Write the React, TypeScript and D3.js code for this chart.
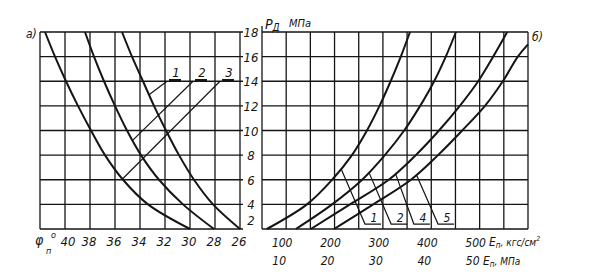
import React from "react";
import * as d3 from "d3";

// ---- axis values ----
const pTicks = [2, 4, 6, 8, 10, 12, 14, 16, 18];
const phiGrid = [42, 40, 38, 36, 34, 32, 30, 28, 26];
const phiTicks = [40, 38, 36, 34, 32, 30, 28, 26];
const eGrid = [50, 100, 150, 200, 250, 300, 350, 400, 450, 500, 550, 600];
const eTicksKgf = [100, 200, 300, 400, 500];
const eTicksMPa = [10, 20, 30, 40, 50];

// ---- left panel a): p_D (MPa) vs phi (deg) ----
const leftNames = ["1", "2", "3"];
const leftPhi1 = [35.44, 34.64, 33.76, 32.88, 31.92, 30.88, 29.68, 28.16, 26.0];
const leftPhi2 = [38.4, 37.68, 36.88, 36.0, 35.04, 33.92, 32.48, 30.56, 28.08];
const leftPhi3 = [41.6, 40.8, 39.92, 38.96, 37.92, 36.8, 35.36, 33.36, 30.0];
const leftP = [18, 16, 14, 12, 10, 8, 6, 4, 2];
// leader lines: start at p=14 (phi), end on curve at p
const leftLeaderStartPhi = [31.84, 29.76, 27.6];
const leftLeaderEndP = [12.9, 9.2, 6.06];

// ---- right panel б): p_D (MPa) vs E (kgf/cm2) ----
const rightNames = ["1", "2", "4", "5"];
const rightE1 = [60, 143, 195, 236, 267, 293, 316, 337, 356];
const rightE2 = [120, 195, 257, 304, 344, 377, 406, 430, 451];
const rightE4 = [151, 232, 312, 368, 416, 459, 497, 528, 557];
const rightE5 = [199, 280, 358, 414, 464, 511, 548, 579, 600];
const rightP = [2, 4, 6, 8, 10, 12, 14, 16, 18];
const rightP5 = [2, 4, 6, 8, 10, 12, 14, 16, 17];
const rightLeaderTopP = [6.9, 6.6, 6.5, 6.4];
const rightLeaderBottomE = [263, 317, 364, 414];

const W = 590;
const H = 274;
const INK = "#151515";
const FONT = "'Liberation Sans Narrow', 'DejaVu Sans Condensed', 'Liberation Sans', sans-serif";

const y = d3.scaleLinear().domain([2, 18]).range([229, 32]);
const xPhi = d3.scaleLinear().domain([42, 26]).range([40, 240]);
const xE = d3.scaleLinear().domain([50, 600]).range([262, 528]);

function interp(xs: number[], ps: number[], p: number) {
  for (let i = 0; i < ps.length - 1; i++) {
    const a = ps[i], b = ps[i + 1];
    if ((p - a) * (p - b) <= 0) {
      const t = (p - a) / (b - a);
      return xs[i] + t * (xs[i + 1] - xs[i]);
    }
  }
  return xs[xs.length - 1];
}

export default function App() {
  const line = d3
    .line<[number, number]>()
    .x((d) => d[0])
    .y((d) => d[1])
    .curve(d3.curveCatmullRom.alpha(0.5));

  const leftCurves = [leftPhi1, leftPhi2, leftPhi3];
  const rightCurves = [
    { e: rightE1, p: rightP },
    { e: rightE2, p: rightP },
    { e: rightE4, p: rightP },
    { e: rightE5, p: rightP5 },
  ];
  const pLine = y(14);

  return (
    <svg
      width={W}
      height={H}
      style={{ position: "absolute", left: 0, top: 0, background: "#fff" }}
      fontFamily={FONT}
      fontStyle="italic"
      fill={INK}
    >
      <rect x={0} y={0} width={W} height={H} fill="#fff" />
      <g stroke={INK} strokeWidth={1.3}>
        {phiGrid.map((v) => (
          <line key={"lv" + v} x1={xPhi(v)} x2={xPhi(v)} y1={y(18)} y2={y(2)} />
        ))}
        {pTicks.map((v) => (
          <line key={"lh" + v} x1={xPhi(42)} x2={xPhi(26) + 3} y1={y(v)} y2={y(v)} />
        ))}
        {eGrid.map((v) => (
          <line key={"rv" + v} x1={xE(v)} x2={xE(v)} y1={v === 50 ? y(18) - 6 : y(18)} y2={y(2)} />
        ))}
        {pTicks.map((v) => (
          <line key={"rh" + v} x1={xE(50)} x2={xE(600)} y1={y(v)} y2={y(v)} />
        ))}
      </g>

      <g fill="none" stroke={INK} strokeWidth={2}>
        {leftCurves.map((c, i) => (
          <path
            key={"lc" + i}
            d={line(c.map((phi, j) => [xPhi(phi), y(leftP[j])]) as [number, number][]) || ""}
          />
        ))}
        {rightCurves.map((c, i) => (
          <path
            key={"rc" + i}
            d={line(c.e.map((e, j) => [xE(e), y(c.p[j])]) as [number, number][]) || ""}
          />
        ))}
      </g>

      <g stroke={INK} strokeWidth={1.2} fill="none">
        {leftNames.map((n, i) => {
          const endPhi = interp(leftCurves[i], leftP, leftLeaderEndP[i]);
          const sx = xPhi(leftLeaderStartPhi[i]);
          return (
            <g key={"ll" + n}>
              <line x1={sx} y1={pLine} x2={xPhi(endPhi)} y2={y(leftLeaderEndP[i])} />
              <line x1={sx + 2} x2={sx + 14} y1={pLine - 1} y2={pLine - 1} strokeWidth={2.5} />
            </g>
          );
        })}
      </g>
      {leftNames.map((n, i) => (
        <text key={"lt" + n} x={xPhi(leftLeaderStartPhi[i]) + 9} y={pLine - 4} fontSize={13} textAnchor="middle">
          {n}
        </text>
      ))}

      <g stroke={INK} strokeWidth={1.2} fill="none">
        {rightNames.map((n, i) => {
          const c = rightCurves[i];
          const topE = interp(c.e, c.p, rightLeaderTopP[i]);
          const bx = xE(rightLeaderBottomE[i]);
          const by = y(2.4);
          return (
            <polyline
              key={"rl" + n}
              points={`${xE(topE)},${y(rightLeaderTopP[i])} ${bx},${by} ${bx + 16},${by}`}
            />
          );
        })}
      </g>
      {rightNames.map((n, i) => (
        <text key={"rt" + n} x={xE(rightLeaderBottomE[i]) + 9} y={y(2.4) - 2} fontSize={12} textAnchor="middle">
          {n}
        </text>
      ))}

      {pTicks.map((v) => (
        <text key={"pt" + v} x={251} y={v === 2 ? y(v) - 4 : y(v) + 5} fontSize={13} textAnchor="middle">
          {v}
        </text>
      ))}

      {phiTicks.map((v) => (
        <text key={"ft" + v} x={xPhi(v) - 1 + (v === 40 ? 4 : 0)} y={246} fontSize={13} textAnchor="middle">
          {v}
        </text>
      ))}
      <text x={35} y={245} fontSize={14}>φ</text>
      <text x={51} y={238} fontSize={9}>o</text>
      <text x={46} y={254} fontSize={9}>п</text>

      {eTicksKgf.map((v) => (
        <text key={"ek" + v} x={xE(v) - 4} y={247} fontSize={12} textAnchor="middle">
          {v}
        </text>
      ))}
      {eTicksMPa.map((v, i) => (
        <text key={"em" + v} x={xE(eTicksKgf[i]) - 7} y={265} fontSize={12} textAnchor="middle">
          {v}
        </text>
      ))}
      <text x={489} y={246} fontSize={12}>
        E<tspan fontSize={8} dy={2}>п</tspan>
        <tspan dy={-2} fontSize={10}>, кгс/см</tspan>
        <tspan fontSize={7} dy={-5}>2</tspan>
      </text>
      <text x={483} y={265} fontSize={12}>
        E<tspan fontSize={8} dy={2}>п</tspan>
        <tspan dy={-2} fontSize={10}>, МПа</tspan>
      </text>

      <text x={265} y={29} fontSize={14}>
        Р<tspan fontSize={10} dy={2}>Д</tspan>
      </text>
      <text x={289} y={27} fontSize={11}>МПа</text>
      <text x={26} y={38} fontSize={12}>а)</text>
      <text x={532} y={41} fontSize={12}>б)</text>
    </svg>
  );
}
